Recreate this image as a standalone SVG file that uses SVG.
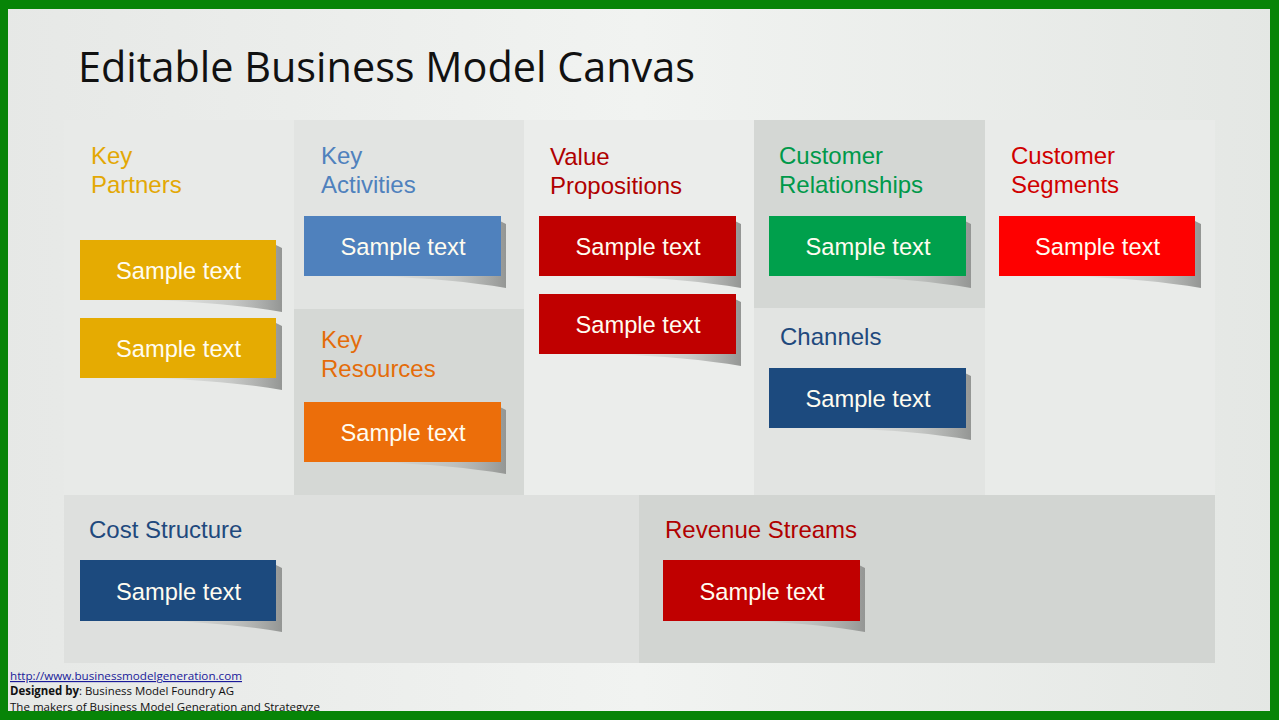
<svg xmlns="http://www.w3.org/2000/svg" width="1279" height="720" viewBox="0 0 1279 720">
<defs>
<linearGradient id="bg" x1="0" y1="0" x2="1" y2="0">
<stop offset="0" stop-color="#e6e8e6"/><stop offset="0.5" stop-color="#f1f3f1"/><stop offset="1" stop-color="#e4e7e4"/>
</linearGradient>
<linearGradient id="sh" x1="0" y1="0" x2="1" y2="0">
<stop offset="0" stop-color="#b0b2b0" stop-opacity="0"/><stop offset="0.6" stop-color="#a8aaa8" stop-opacity="0.5"/><stop offset="1" stop-color="#949694"/>
</linearGradient>
<path id="shadow" d="M70,60 Q150,63 202,72 L202,8 L196,5 L196,60 Z" fill="url(#sh)"/>
<style>
.lbl{font-family:"Liberation Sans",Arial,sans-serif;font-size:24px}
.card{font-family:"Liberation Sans",Arial,sans-serif;font-size:23.7px;fill:#fffcf0;text-anchor:middle}
.foot{font-family:"Open Sans","Liberation Sans",sans-serif;font-size:11.5px;fill:#111}
</style>
</defs>
<rect width="1279" height="720" fill="url(#bg)"/>
<text x="78" y="82" font-family="'Open Sans','Liberation Sans',sans-serif" font-size="42" fill="#111" textLength="617" lengthAdjust="spacingAndGlyphs">Editable Business Model Canvas</text>

<g id="key-partners">
<rect x="64" y="120" width="230" height="375" fill="#e8eae8"/>
<text class="lbl" fill="#e3a805"><tspan x="91" y="164">Key</tspan><tspan x="91" y="193">Partners</tspan></text>
</g>
<g id="key-activities">
<rect x="294" y="120" width="230" height="189" fill="#e2e4e2"/>
<text class="lbl" fill="#4f81bd"><tspan x="321" y="164">Key</tspan><tspan x="321" y="193">Activities</tspan></text>
</g>
<g id="key-resources">
<rect x="294" y="309" width="230" height="186" fill="#d5d8d5"/>
<text class="lbl" fill="#e46c0a"><tspan x="321" y="348">Key</tspan><tspan x="321" y="377">Resources</tspan></text>
</g>
<g id="value-propositions">
<rect x="524" y="120" width="230" height="375" fill="#ebedeb"/>
<text class="lbl" fill="#b00000"><tspan x="550" y="165">Value</tspan><tspan x="550" y="194">Propositions</tspan></text>
</g>
<g id="customer-relationships">
<rect x="754" y="120" width="231" height="188" fill="#d4d7d4"/>
<text class="lbl" fill="#00994a"><tspan x="779" y="164">Customer</tspan><tspan x="779" y="193">Relationships</tspan></text>
</g>
<g id="channels">
<rect x="754" y="308" width="231" height="187" fill="#e2e4e2"/>
<text class="lbl" fill="#1f497d" x="780" y="345">Channels</text>
</g>
<g id="customer-segments">
<rect x="985" y="120" width="230" height="375" fill="#e9ebe9"/>
<text class="lbl" fill="#d00000"><tspan x="1011" y="164">Customer</tspan><tspan x="1011" y="193">Segments</tspan></text>
</g>
<g id="cost-structure">
<rect x="64" y="495" width="575" height="168" fill="#dee0de"/>
<text class="lbl" fill="#1f497d" x="89" y="538">Cost Structure</text>
</g>
<g id="revenue-streams">
<rect x="639" y="495" width="576" height="168" fill="#d2d5d2"/>
<text class="lbl" fill="#b00000" x="665" y="538">Revenue Streams</text>
</g>

<g id="kp-card-1" transform="translate(80,240)"><use href="#shadow"/><rect width="196" height="60" fill="#e5ab02"/><text class="card" x="98.5" y="39">Sample text</text></g>
<g id="kp-card-2" transform="translate(80,318)"><use href="#shadow"/><rect width="196" height="60" fill="#e5ab02"/><text class="card" x="98.5" y="39">Sample text</text></g>
<g id="ka-card" transform="translate(304,216)"><use href="#shadow"/><rect width="197" height="60" fill="#4f81bd"/><text class="card" x="99" y="39">Sample text</text></g>
<g id="kr-card" transform="translate(304,402)"><use href="#shadow"/><rect width="197" height="60" fill="#ec6e0a"/><text class="card" x="99" y="39">Sample text</text></g>
<g id="vp-card-1" transform="translate(539,216)"><use href="#shadow"/><rect width="197" height="60" fill="#c00000"/><text class="card" x="99" y="39">Sample text</text></g>
<g id="vp-card-2" transform="translate(539,294)"><use href="#shadow"/><rect width="197" height="60" fill="#c00000"/><text class="card" x="99" y="39">Sample text</text></g>
<g id="cr-card" transform="translate(769,216)"><use href="#shadow"/><rect width="197" height="60" fill="#00a04c"/><text class="card" x="99" y="39">Sample text</text></g>
<g id="ch-card" transform="translate(769,368)"><use href="#shadow"/><rect width="197" height="60" fill="#1c4a7e"/><text class="card" x="99" y="39">Sample text</text></g>
<g id="cs-card" transform="translate(999,216)"><use href="#shadow"/><rect width="196" height="60" fill="#fe0000"/><text class="card" x="98.5" y="39">Sample text</text></g>
<g id="cost-card" transform="translate(80,560)"><use href="#shadow"/><rect width="196" height="61" fill="#1c4a7e"/><text class="card" x="98.5" y="40">Sample text</text></g>
<g id="rev-card" transform="translate(663,560)"><use href="#shadow"/><rect width="197" height="61" fill="#c00000"/><text class="card" x="99" y="40">Sample text</text></g>

<g id="footer">
<text class="foot" x="10" y="680" style="fill:#1a1a9a" text-decoration="underline" textLength="232" lengthAdjust="spacingAndGlyphs">http://www.businessmodelgeneration.com</text>
<text class="foot" x="10" y="695" textLength="224" lengthAdjust="spacingAndGlyphs"><tspan font-weight="bold">Designed by</tspan>: Business Model Foundry AG</text>
<text class="foot" x="10" y="711" textLength="310" lengthAdjust="spacingAndGlyphs">The makers of Business Model Generation and Strategyze</text>
</g>

<g id="frame" fill="#078407">
<rect x="0" y="0" width="1279" height="9"/>
<rect x="0" y="0" width="8" height="720"/>
<rect x="1270" y="0" width="9" height="720"/>
<rect x="0" y="711" width="1279" height="9"/>
</g>
</svg>
